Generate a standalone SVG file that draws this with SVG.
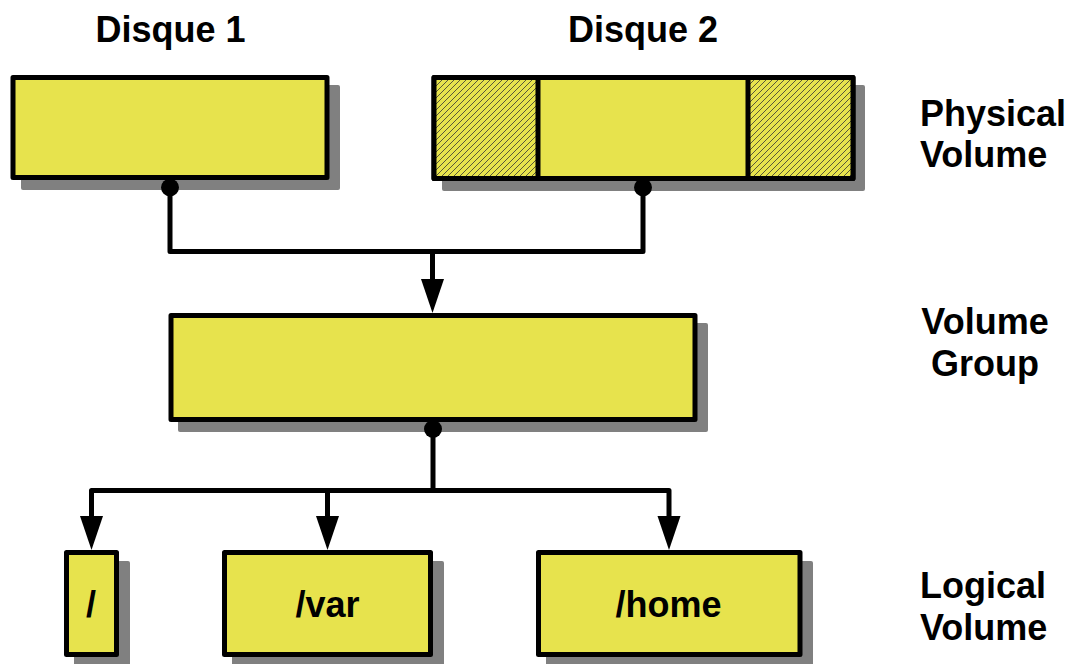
<svg xmlns="http://www.w3.org/2000/svg" width="1073" height="664" viewBox="0 0 1073 664">
<style>
.box{fill:#e7e34d;stroke:#000;stroke-width:5;stroke-linejoin:round}
.hatch{fill:url(#hatch);stroke:#000;stroke-width:5;stroke-linejoin:round}
.sh{fill:#808080}
.ln{fill:none;stroke:#000;stroke-width:5;stroke-linejoin:round}
.ah{fill:#000}
.dot{fill:#000}
.t{font-family:"Liberation Sans",Arial,sans-serif;font-weight:bold;font-size:36px;fill:#000}
.c{text-anchor:middle}
</style>
<defs>
<pattern id="hatch" patternUnits="userSpaceOnUse" width="6" height="6">
<rect width="6" height="6" fill="#e7e34d"/>
<path d="M-1,1 L1,-1 M0,6 L6,0 M5,7 L7,5" stroke="#333" stroke-width="0.8"/>
</pattern>
</defs>

<g id="disque1">
<rect class="sh" x="21" y="85" width="319" height="105" rx="2"/>
<rect class="box" x="13" y="77.5" width="314" height="100"/>
<text class="t c" x="170.5" y="42">Disque 1</text>
</g>

<g id="disque2">
<rect class="sh" x="442" y="85" width="423" height="106" rx="2"/>
<rect class="box" x="434" y="77.5" width="419" height="101"/>
<rect class="hatch" x="434" y="77.5" width="104" height="101"/>
<rect class="hatch" x="748" y="77.5" width="105" height="101"/>
<text class="t c" x="643" y="42">Disque 2</text>
</g>

<g id="vg">
<rect class="sh" x="178" y="323" width="530" height="109" rx="2"/>
<rect class="box" x="171" y="315.5" width="524" height="104"/>
</g>

<g id="lv-root">
<rect class="sh" x="74" y="561" width="56" height="107" rx="2"/>
<rect class="box" x="66.5" y="552.5" width="50" height="102"/>
<text class="t c" x="91" y="617">/</text>
</g>

<g id="lv-var">
<rect class="sh" x="232" y="561" width="212" height="107" rx="2"/>
<rect class="box" x="224.5" y="552.5" width="206" height="102"/>
<text class="t c" x="327.5" y="617">/var</text>
</g>

<g id="lv-home">
<rect class="sh" x="546" y="561" width="267" height="107" rx="2"/>
<rect class="box" x="538.5" y="552.5" width="261.5" height="102"/>
<text class="t c" x="668.5" y="617">/home</text>
</g>

<g id="labels">
<text class="t" x="920" y="126">Physical</text>
<text class="t" x="920" y="167">Volume</text>
<text class="t c" x="985" y="334">Volume</text>
<text class="t c" x="985" y="376">Group</text>
<text class="t" x="920" y="598">Logical</text>
<text class="t" x="920" y="640">Volume</text>
</g>

<g id="connectors">
<path class="ln" d="M170,187 V251.5 H643 V187"/>
<path class="ln" d="M432.5,251.5 V282"/>
<polygon class="ah" points="421,279 444,279 432.5,313"/>
<circle class="dot" cx="170" cy="187.5" r="9"/>
<circle class="dot" cx="643" cy="187.5" r="9"/>
<circle class="dot" cx="433" cy="429" r="9"/>
<path class="ln" d="M433,429 V490.5"/>
<path class="ln" d="M91.5,519 V490.5 H669 V519"/>
<path class="ln" d="M327.5,490.5 V519"/>
<polygon class="ah" points="80,516 103,516 91.5,550"/>
<polygon class="ah" points="316,516 339,516 327.5,550"/>
<polygon class="ah" points="657.5,516 680.5,516 669,550"/>
</g>
</svg>
